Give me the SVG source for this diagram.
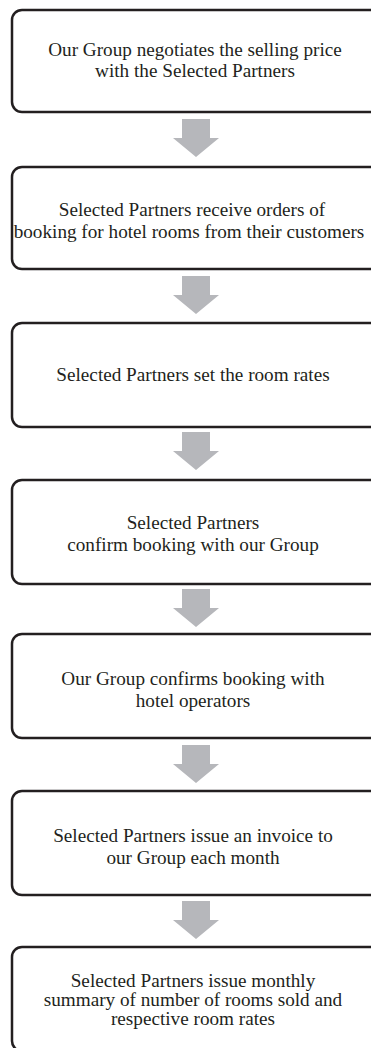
<svg xmlns="http://www.w3.org/2000/svg" width="371" height="1048" viewBox="0 0 371 1048">
  <style>
    .box { fill: #ffffff; stroke: #231f20; stroke-width: 2.5; }
    .lbl { font-family: "Liberation Serif", "Times New Roman", serif; font-size: 19.2px; fill: #231f20; text-anchor: middle; }
    .arrow { fill: #b6b7bb; }
  </style>
  <defs>
    <path id="down" class="arrow" d="M182,0 H210 V19 H219 L196,38 L173,19 H182 Z"/>
  </defs>
  <rect width="371" height="1048" fill="#ffffff"/>

  <g id="connectors">
    <use href="#down" y="119"/>
    <use href="#down" y="276"/>
    <use href="#down" y="432"/>
    <use href="#down" y="589"/>
    <use href="#down" y="745"/>
    <use href="#down" y="901"/>
  </g>

  <g id="n1">
    <rect class="box" x="12" y="10" width="380" height="102" rx="10"/>
    <text class="lbl" x="195" y="56">Our Group negotiates the selling price</text>
    <text class="lbl" x="195" y="77">with the Selected Partners</text>
  </g>
  <g id="n2">
    <rect class="box" x="12" y="167" width="380" height="102" rx="10"/>
    <text class="lbl" x="192" y="216">Selected Partners receive orders of</text>
    <text class="lbl" x="189" y="238">booking for hotel rooms from their customers</text>
  </g>
  <g id="n3">
    <rect class="box" x="12" y="323" width="380" height="104" rx="10"/>
    <text class="lbl" x="193" y="381">Selected Partners set the room rates</text>
  </g>
  <g id="n4">
    <rect class="box" x="12" y="480" width="380" height="104" rx="10"/>
    <text class="lbl" x="193" y="529">Selected Partners</text>
    <text class="lbl" x="193" y="551">confirm booking with our Group</text>
  </g>
  <g id="n5">
    <rect class="box" x="12" y="634" width="380" height="104" rx="10"/>
    <text class="lbl" x="193" y="685">Our Group confirms booking with</text>
    <text class="lbl" x="193" y="707">hotel operators</text>
  </g>
  <g id="n6">
    <rect class="box" x="12" y="791" width="380" height="104" rx="10"/>
    <text class="lbl" x="193" y="842">Selected Partners issue an invoice to</text>
    <text class="lbl" x="193" y="864">our Group each month</text>
  </g>
  <g id="n7">
    <rect class="box" x="12" y="947" width="380" height="104" rx="10"/>
    <text class="lbl" x="193" y="987">Selected Partners issue monthly</text>
    <text class="lbl" x="193" y="1006">summary of number of rooms sold and</text>
    <text class="lbl" x="193" y="1025">respective room rates</text>
  </g>
</svg>
